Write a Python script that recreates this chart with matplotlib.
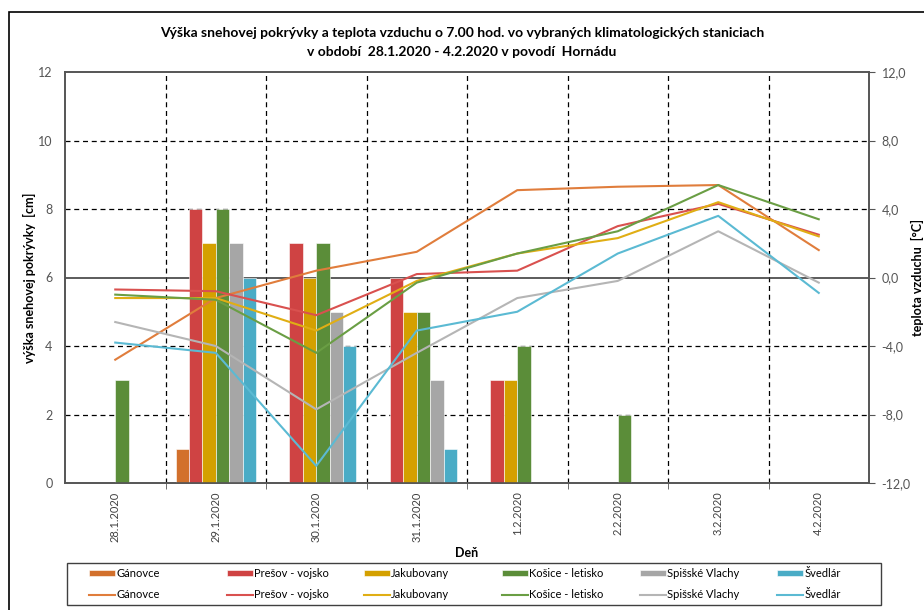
import numpy as np
import matplotlib.pyplot as plt

plt.rcParams['font.family'] = ['Lato', 'DejaVu Sans']

# Data

days = ["28.1.2020", "29.1.2020", "30.1.2020", "31.1.2020",
        "1.2.2020", "2.2.2020", "3.2.2020", "4.2.2020"]
stations = ["Gánovce", "Prešov - vojsko", "Jakubovany",
            "Košice - letisko", "Spišské Vlachy", "Švedlár"]

# snow depth [cm]
snow_ganovce = [0, 1, 0, 0, 0, 0, 0, 0]
snow_presov = [0, 8, 7, 6, 3, 0, 0, 0]
snow_jakubovany = [0, 7, 6, 5, 3, 0, 0, 0]
snow_kosice = [3, 8, 7, 5, 4, 2, 0, 0]
snow_spisske = [0, 7, 5, 3, 0, 0, 0, 0]
snow_svedlar = [0, 6, 4, 1, 0, 0, 0, 0]

# air temperature at 7:00 [°C]
temp_ganovce = [-4.8, -1.2, 0.4, 1.5, 5.1, 5.3, 5.4, 1.6]
temp_presov = [-0.7, -0.8, -2.2, 0.2, 0.4, 3.0, 4.3, 2.5]
temp_jakubovany = [-1.2, -1.2, -3.1, -0.2, 1.4, 2.3, 4.4, 2.4]
temp_kosice = [-1.0, -1.3, -4.4, -0.3, 1.4, 2.7, 5.4, 3.4]
temp_spisske = [-2.6, -4.0, -7.7, -4.4, -1.2, -0.2, 2.7, -0.3]
temp_svedlar = [-3.8, -4.4, -11.0, -3.1, -2.0, 1.4, 3.6, -0.9]

snow = [snow_ganovce, snow_presov, snow_jakubovany, snow_kosice, snow_spisske, snow_svedlar]
temp = [temp_ganovce, temp_presov, temp_jakubovany, temp_kosice, temp_spisske, temp_svedlar]

bar_colors = ['#D2702C', '#CF4343', '#D4A000', '#5B8D39', '#A6A6A6', '#4AACC6']
line_colors = ['#E07D3C', '#D9514F', '#E0AE14', '#6A9E44', '#B5B5B5', '#5BBAD3']

# Chart

fig = plt.figure(figsize=(9.24, 6.10), dpi=100)
ax = fig.add_axes([65/924, 1-483/610, 804/924, 411/610])
ax2 = ax.twinx()

x = np.arange(len(days))
w = 0.8 / len(stations)
bars = []
for k in range(len(stations)):
    b = ax.bar(x - 0.4 + (k + 0.5) * w, snow[k], width=w, color=bar_colors[k],
               edgecolor='white', linewidth=0.4, zorder=3)
    bars.append(b)

lines = []
for k in range(len(stations)):
    l, = ax2.plot(x, temp[k], color=line_colors[k], linewidth=1.5, zorder=4)
    lines.append(l)

ax.set_xlim(-0.5, len(days) - 0.5)
ax.set_ylim(0, 12)
ax.set_yticks(range(0, 13, 2))
ax2.set_ylim(-12, 12)
ax2.set_yticks(range(-12, 13, 4))
ax2.set_yticklabels([f"{v:.1f}".replace('.', ',') for v in range(-12, 13, 4)])

# grid
for yv in [2, 4, 8, 10]:
    ax.axhline(yv, color='black', linestyle=(0, (4, 3)), linewidth=0.9, zorder=1)
ax.axhline(6, color='#404040', linewidth=1.2, zorder=2)
for xv in np.arange(0.5, len(days) - 0.5, 1):
    ax.axvline(xv, color='black', linestyle=(0, (4, 3)), linewidth=0.9, zorder=1)

ax.set_xticks(x)
ax.set_xticklabels(days, rotation=90, fontsize=8, color='#404040')
ax.tick_params(axis='x', length=0, pad=6)
ax.set_xticks(np.arange(0.5, len(days) - 0.5, 1), minor=True)
ax.tick_params(axis='x', which='minor', length=4, color='#555555', direction='out')
ax.tick_params(axis='y', labelsize=9, colors='#555555', length=0, pad=9)
ax2.tick_params(axis='y', labelsize=9, colors='#555555', length=4, pad=5)

for a in (ax, ax2):
    for s in a.spines.values():
        s.set_color('#555555')
        s.set_linewidth(1.2)

ax.set_ylabel("výška snehovej pokrývky  [cm]", fontsize=9, fontweight='bold')
ax.yaxis.set_label_coords(-0.036, 0.5)
ax2.set_ylabel("teplota vzduchu  [°C]", fontsize=9, fontweight='bold', rotation=90)
ax2.yaxis.set_label_coords(1.052, 0.5)
ax.set_xlabel("Deň", fontsize=9, fontweight='bold', labelpad=4)

fig.text(0.5, 1-33/610, "Výška snehovej pokrývky a teplota vzduchu o 7.00 hod. vo vybraných klimatologických staniciach",
         ha='center', va='center', fontsize=10, fontweight='bold')
fig.text(0.5, 1-52/610, "v období  28.1.2020 - 4.2.2020 v povodí  Hornádu",
         ha='center', va='center', fontsize=10, fontweight='bold')

# legend: one small legend per station (bar on top, line below)
legend_x = [89, 227, 364, 502, 640, 777]
for k in range(len(stations)):
    fig.legend([bars[k], lines[k]], [stations[k], stations[k]], loc='center left',
               bbox_to_anchor=(legend_x[k]/924, 1-584/610),
               fontsize=8, frameon=False,
               handlelength=2.3, handleheight=0.45, handletextpad=0.15,
               borderaxespad=0, borderpad=0, labelspacing=0.95)
fig.patches.append(plt.Rectangle((67/924, 1-605/610), 814/924, 42/610, transform=fig.transFigure,
                                 fill=False, edgecolor='#404040', linewidth=1.0))

# outer frame
fig.patches.append(plt.Rectangle((9/924, -0.01), 1.0, 1-12/610 + 0.01, transform=fig.transFigure,
                                 fill=False, edgecolor='black', linewidth=1.2))

fig.savefig("out.png", dpi=100)
